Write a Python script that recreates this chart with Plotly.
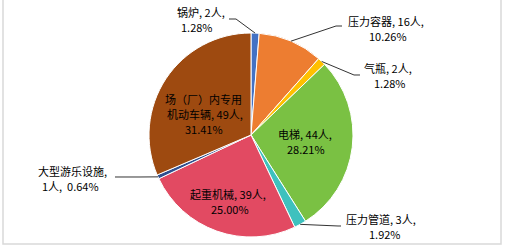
import math
import plotly.graph_objects as go

categories = ["锅炉", "压力容器", "气瓶", "电梯", "压力管道", "起重机械", "大型游乐设施", "场（厂）内专用机动车辆"]
counts = [2, 16, 2, 44, 3, 39, 1, 49]
percents = ["1.28%", "10.26%", "1.28%", "28.21%", "1.92%", "25.00%", "0.64%", "31.41%"]
colors = ["#4472C4", "#ED7D31", "#FFC000", "#7AC143", "#3EC1BE", "#E24A62", "#2F4F8F", "#9E4A10"]

label_lines = [
    [f"{categories[0]}, {counts[0]}人,", percents[0]],
    [f"{categories[1]}, {counts[1]}人,", percents[1]],
    [f"{categories[2]}, {counts[2]}人,", percents[2]],
    [f"{categories[3]}, {counts[3]}人,", percents[3]],
    [f"{categories[4]}, {counts[4]}人,", percents[4]],
    [f"{categories[5]}, {counts[5]}人,", percents[5]],
    [f"{categories[6]},", f"{counts[6]}人,  {percents[6]}"],
    ["场（厂）内专用", f"机动车辆, {counts[7]}人,", percents[7]],
]

W, H = 505, 249
cx, cy, r = 251, 135, 102

def px(x):
    return x / W

def py(y):
    return 1 - y / H

fig = go.Figure(go.Pie(
    labels=categories, values=counts, sort=False, direction="clockwise", rotation=0,
    marker=dict(colors=colors, line=dict(color="white", width=1)),
    textinfo="none", hoverinfo="label+value+percent", showlegend=False,
    domain=dict(x=[px(cx - r), px(cx + r)], y=[py(cy + r), py(cy - r)]),
))

# per-line label positions (pixel coords: x center, y center)
line_pos = [
    [(201, 12), (197, 27)],
    [(386, 21), (388, 36)],
    [(388, 68), (390, 83)],
    [(305, 134), (306, 149)],
    [(381, 219), (385, 234)],
    [(228, 194), (230, 209)],
    [(72, 171), (70, 186)],
    [(203, 99), (205, 114), (204, 129)],
]
leaders = {0: [(236, 19), (229, 19)], 1: [(336, 26), (342, 26)], 2: [(354, 75), (360, 75)],
           4: [(338, 226), (341, 226)], 6: [(140, 177), (115, 177)]}

total = sum(counts)
cum = 0
shapes = []
for i, v in enumerate(counts):
    mid = (cum + v / 2) / total
    cum += v
    if i in leaders:
        th = math.radians(90 - 360 * mid)
        pts = [(cx + r * math.cos(th), cy - r * math.sin(th))] + leaders[i]
        path = "M " + " L ".join(f"{px(x):.5f},{py(y):.5f}" for x, y in pts)
        shapes.append(dict(type="path", xref="paper", yref="paper", path=path,
                           line=dict(color="#333333", width=1)))

annotations = []
for lines, poss in zip(label_lines, line_pos):
    for t, (x, y) in zip(lines, poss):
        annotations.append(dict(x=px(x), y=py(y), xref="paper", yref="paper", text=t,
                                showarrow=False, xanchor="center", yanchor="middle", align="center",
                                borderpad=0,
                                font=dict(family="Noto Sans CJK SC", size=11, color="black")))

shapes.append(dict(type="rect", xref="paper", yref="paper", x0=px(3), x1=px(501), y0=py(244), y1=py(-5),
                   line=dict(color="#D9D9D9", width=1.5)))

fig.update_layout(width=W, height=H, margin=dict(l=0, r=0, t=0, b=0),
                  paper_bgcolor="white", plot_bgcolor="white",
                  shapes=shapes, annotations=annotations)
fig.write_html("out.html")
